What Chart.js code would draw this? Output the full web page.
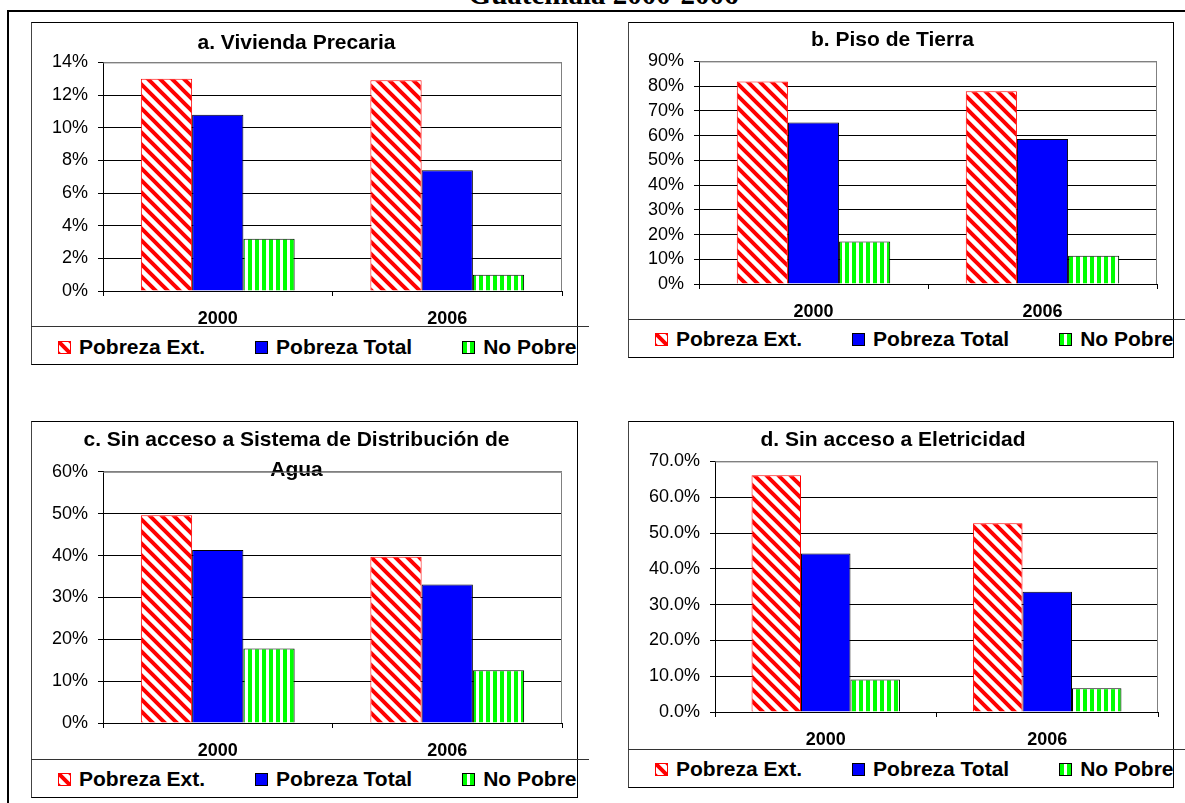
<!DOCTYPE html>
<html>
<head>
<meta charset="utf-8">
<script src="https://cdn.jsdelivr.net/npm/chart.js@4.4.1/dist/chart.umd.min.js"></script>
<style>
  body { margin: 0; background: #fff; width: 1185px; height: 803px; position: relative; overflow: hidden; }
  #pageTitle { position: absolute; left: 0; width: 1207px; top: -22px; line-height: 29px; text-align: center;
               font: bold 29px "Liberation Serif", "Times New Roman", serif; color: #000; white-space: nowrap; }
  .rule { position: absolute; background: #000; }
  .panel { position: absolute; border: 1px solid #000; border-left-color: #444; box-sizing: border-box; }
  .sep { position: absolute; height: 1px; background: #333; }
  canvas { position: absolute; }
  .legend { position: absolute; height: 26px; display: flex; align-items: center; white-space: nowrap;
            font: bold 21px "Liberation Sans", Arial, sans-serif; color: #000; }
  .legend .item { display: flex; align-items: center; margin-right: 50px; }
  .legend .sw { display: inline-block; width: 13px; height: 13px; box-sizing: border-box; margin-right: 8px; }
</style>
</head>
<body>
<div id="pageTitle">Guatemala 2000-2006</div>
<div class="rule" style="left:7px;top:10px;width:1178px;height:2px"></div>
<div class="rule" style="left:7px;top:10px;width:2px;height:793px"></div>

<script>
// categories and series
const years = ['2000', '2006'];
const seriesNames = ['Pobreza Ext.', 'Pobreza Total', 'No Pobre'];

// a. Vivienda Precaria (%)
const aExt = [13.0, 12.9];
const aTotal = [10.8, 7.4];
const aNoPobre = [3.2, 1.0];

// b. Piso de Tierra (%)
const bExt = [81.9, 77.9];
const bTotal = [65.3, 58.6];
const bNoPobre = [17.2, 11.4];

// c. Sin acceso a Sistema de Distribución de Agua (%)
const cExt = [49.6, 39.7];
const cTotal = [41.3, 33.1];
const cNoPobre = [17.8, 12.6];

// d. Sin acceso a Eletricidad (%)
const dExt = [66.1, 52.7];
const dTotal = [44.3, 33.6];
const dNoPobre = [9.1, 6.6];

// axis ranges and tick label decimals
const aAxis = [0, 14, 2, 0];
const bAxis = [0, 90, 10, 0];
const cAxis = [0, 60, 10, 0];
const dAxis = [0, 70, 10, 1];

Chart.defaults.font.family = '"Liberation Sans", Arial, sans-serif';
Chart.defaults.color = '#000';

// hatch fills, like the old Excel patterns
function diagonalTile() {
  const c = document.createElement('canvas');
  c.width = 12; c.height = 12;
  const g = c.getContext('2d');
  g.fillStyle = '#fff';
  g.fillRect(0, 0, 12, 12);
  g.strokeStyle = '#ff0000';
  g.lineWidth = 4;
  g.beginPath();
  g.moveTo(-6, -6); g.lineTo(18, 18);
  g.moveTo(-6, 6); g.lineTo(6, 18);
  g.moveTo(6, -6); g.lineTo(18, 6);
  g.stroke();
  return c;
}
function verticalTile() {
  const c = document.createElement('canvas');
  c.width = 7; c.height = 7;
  const g = c.getContext('2d');
  g.fillStyle = '#fff';
  g.fillRect(0, 0, 7, 7);
  g.fillStyle = '#00ff00';
  g.fillRect(0, 0, 4, 7);
  return c;
}
const redTile = diagonalTile();
const greenTile = verticalTile();

// plot area frame: gray top and right edges
const plotFrame = {
  id: 'plotFrame',
  beforeDatasetsDraw(chart) {
    const { ctx, chartArea: a } = chart;
    ctx.save();
    ctx.strokeStyle = '#808080';
    ctx.lineWidth = 1;
    ctx.beginPath();
    ctx.moveTo(a.left, a.top + 0.5);
    ctx.lineTo(a.right - 0.5, a.top + 0.5);
    ctx.lineTo(a.right - 0.5, a.bottom);
    ctx.stroke();
    ctx.restore();
  }
};

const panels = [
  { title: 'a. Vivienda Precaria', data: [aExt, aTotal, aNoPobre], axis: aAxis,
    box: { x: 31, y: 22, w: 547, h: 343 }, sepY: 326, sepRight: 589, legendY: 347,
    plot: { left: 72, right: 16, top: 40, bottom: 35 }, titlePad: { top: 7, bottom: 4 } },
  { title: 'b. Piso de Tierra', data: [bExt, bTotal, bNoPobre], axis: bAxis,
    box: { x: 628, y: 22, w: 546, h: 336 }, sepY: 319, sepRight: 1185, legendY: 339,
    plot: { left: 71, right: 17, top: 39, bottom: 35 }, titlePad: { top: 4, bottom: 6 } },
  { title: ['c. Sin acceso a Sistema de Distribución de', 'Agua'], data: [cExt, cTotal, cNoPobre], axis: cAxis,
    box: { x: 31, y: 421, w: 547, h: 377 }, sepY: 759, sepRight: 589, legendY: 779,
    plot: { left: 72, right: 16, top: 51, bottom: 36 }, titlePad: { top: 5, bottom: -13 } },
  { title: 'd. Sin acceso a Eletricidad', data: [dExt, dTotal, dNoPobre], axis: dAxis,
    box: { x: 628, y: 421, w: 546, h: 367 }, sepY: 749, sepRight: 1185, legendY: 769,
    plot: { left: 87, right: 16, top: 40, bottom: 37 }, titlePad: { top: 5, bottom: 6 } }
];

panels.forEach(p => {
  const box = document.createElement('div');
  box.className = 'panel';
  Object.assign(box.style, { left: p.box.x + 'px', top: p.box.y + 'px', width: p.box.w + 'px', height: p.box.h + 'px' });
  document.body.appendChild(box);

  const sep = document.createElement('div');
  sep.className = 'sep';
  Object.assign(sep.style, { left: p.box.x + 'px', top: p.sepY + 'px', width: (p.sepRight - p.box.x) + 'px' });
  document.body.appendChild(sep);

  const canvas = document.createElement('canvas');
  canvas.width = p.box.w;
  canvas.height = p.sepY - p.box.y;
  Object.assign(canvas.style, { left: p.box.x + 'px', top: p.box.y + 'px' });
  document.body.appendChild(canvas);

  const ctx = canvas.getContext('2d');
  const fills = [ctx.createPattern(redTile, 'repeat'), '#0000ff', ctx.createPattern(greenTile, 'repeat')];
  const borders = ['#ff0000', '#000', '#000'];
  const [yMin, yMax, yStep, decimals] = p.axis;

  const chart = new Chart(ctx, {
    type: 'bar',
    data: {
      labels: years,
      datasets: seriesNames.map((name, i) => ({
        label: name,
        data: p.data[i],
        backgroundColor: fills[i],
        borderColor: borders[i],
        borderWidth: 1,
        categoryPercentage: 0.67,
        barPercentage: 1.0
      }))
    },
    options: {
      responsive: false,
      animation: false,
      devicePixelRatio: 1,
      layout: { padding: { left: 0, right: p.plot.right, top: 0, bottom: 0 } },
      plugins: {
        legend: { display: false },
        tooltip: { enabled: false },
        title: {
          display: true,
          text: p.title,
          color: '#000',
          font: { size: 21, weight: 'bold', lineHeight: 1.4 },
          padding: p.titlePad
        }
      },
      scales: {
        x: {
          grid: { offset: true, drawOnChartArea: false, color: '#000', tickLength: 5 },
          border: { color: '#000' },
          ticks: { font: { size: 18, weight: 'bold' }, padding: 12 },
          afterFit: s => { s.height = p.plot.bottom; }
        },
        y: {
          min: yMin,
          max: yMax,
          grid: { color: c => (c.tick && c.tick.value === yMax ? '#808080' : '#000'), tickColor: '#000', tickLength: 5 },
          border: { color: '#000' },
          ticks: { stepSize: yStep, font: { size: 18 }, padding: 10,
                   callback: v => v.toFixed(decimals) + '%' },
          afterFit: s => { s.width = p.plot.left; }
        }
      }
    },
    plugins: [plotFrame]
  });

  // legend built from the chart's datasets
  const swatches = [
    { backgroundImage: 'url(' + redTile.toDataURL() + ')', border: '1px solid #ff0000' },
    { background: '#0000ff', border: '1px solid #000' },
    { backgroundImage: 'url(' + greenTile.toDataURL() + ')', border: '1px solid #000' }
  ];
  const legend = document.createElement('div');
  legend.className = 'legend';
  Object.assign(legend.style, { left: (p.box.x + 27) + 'px', top: (p.legendY - 13) + 'px' });
  chart.data.datasets.forEach((ds, i) => {
    const item = document.createElement('div');
    item.className = 'item';
    const sw = document.createElement('span');
    sw.className = 'sw';
    Object.assign(sw.style, swatches[i]);
    const txt = document.createElement('span');
    txt.textContent = ds.label;
    item.appendChild(sw);
    item.appendChild(txt);
    legend.appendChild(item);
  });
  document.body.appendChild(legend);
});
</script>
</body>
</html>
